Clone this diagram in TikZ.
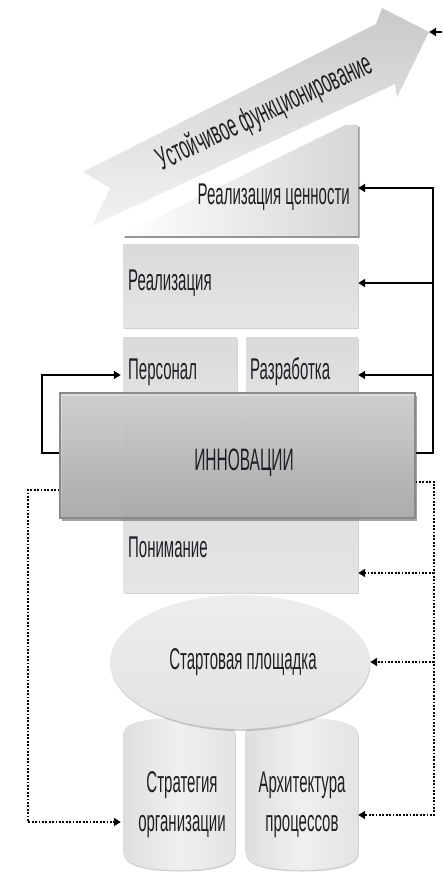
\documentclass[tikz,border=0pt]{standalone}
\usepackage{fontspec}
\setmainfont{Liberation Sans}
\usetikzlibrary{arrows.meta,shadows,shapes.geometric}
\definecolor{ink}{HTML}{202024}
\definecolor{panelA}{HTML}{DADADC}
\definecolor{panelB}{HTML}{E5E5E7}
\definecolor{innA}{HTML}{D8D8DA}
\definecolor{innB}{HTML}{AEAEB0}
\definecolor{innEdge}{HTML}{8A8A8C}
\definecolor{shade}{HTML}{7A7A7C}
% condensed lettering: the sans face squeezed to half its width
\newcommand{\nar}[1]{\scalebox{0.5}[1]{#1}}
\begin{document}
\begin{tikzpicture}[x=1pt,y=-1pt,
  lbl/.style={font=\fontsize{30}{34}\selectfont, text=ink, inner sep=0pt},
  panel/.style={draw=none, top color=panelA, bottom color=panelB, inner sep=0pt,
    drop shadow={shadow xshift=0.8pt, shadow yshift=-1.5pt, fill=shade, opacity=0.35}},
  anchorbox/.style={inner sep=0pt, draw=none},
  bus/.style={line width=1.8pt, draw=black, -{Triangle[length=7pt,width=8pt]}},
  dots/.style={line width=1.8pt, draw=black, dash pattern=on 1.8pt off 1.6pt,
    -{Triangle[length=7pt,width=8pt]}}
]
\useasboundingbox (0,0) rectangle (442,874);

% big ribbon arrow
\coordinate (arrowTip) at (429,32);
\path[left color=gray!42, right color=gray!10, shading angle=0]
  (83,172) -- (376,24) -- (382,8) -- (arrowTip) -- (397,97) -- (395,84)
  -- (92,226) -- (110,188) -- cycle;
\node[lbl, font=\fontsize{32}{36}\selectfont, rotate=25] (sustainT) at (265,113)
  {\nar{Устойчивое функционирование}};

% value wedge
\node[anchorbox, minimum width=235pt, minimum height=112pt] (value) at (240.5,181) {};
\path[left color=white, right color=gray!32,
  drop shadow={shadow xshift=1.5pt, shadow yshift=-2pt, fill=shade, opacity=0.8}]
  (123,234) -- (345,125) -- (358,125) -- (358,236) -- (123,236) -- cycle;
\node[lbl, anchor=east] (valueT) at (350,197) {\nar{Реализация ценности}};

% stacked panels
\node[panel, minimum width=235pt, minimum height=82pt] (impl) at (240.5,286) {};
\node[panel, minimum width=114pt, minimum height=88pt] (staff) at (180,381) {};
\node[panel, minimum width=112pt, minimum height=88pt] (dev) at (302,381) {};
\node[panel, minimum width=235pt, minimum height=172pt] (underst) at (240.5,506) {};

% translucent innovation bar
\node[draw=innEdge, line width=1.2pt, top color=innA, bottom color=innB,
  fill opacity=0.85, inner sep=0pt, minimum width=355pt, minimum height=125pt,
  drop shadow={shadow xshift=1.5pt, shadow yshift=-3pt, fill=shade, opacity=0.7}]
  (innov) at (237.5,455.5) {};

% cylinders
\node[anchorbox, minimum width=112pt, minimum height=150pt] (strat) at (179,795) {};
\node[anchorbox, minimum width=113pt, minimum height=150pt] (arch) at (301.5,795) {};
\path[left color=gray!26, right color=gray!22, middle color=gray!12,
  drop shadow={shadow xshift=0.8pt, shadow yshift=-1.5pt, fill=shade, opacity=0.35}]
  (123,734) .. controls (123,722) and (150,718) .. (179,718)
  .. controls (208,718) and (235,722) .. (235,734) -- (235,852)
  .. controls (235,866) and (208,870) .. (179,870)
  .. controls (150,870) and (123,866) .. (123,852) -- cycle;
\path[left color=gray!26, right color=gray!22, middle color=gray!12,
  drop shadow={shadow xshift=0.8pt, shadow yshift=-1.5pt, fill=shade, opacity=0.35}]
  (245,734) .. controls (245,722) and (272,718) .. (301.5,718)
  .. controls (331,718) and (358,722) .. (358,734) -- (358,852)
  .. controls (358,866) and (331,870) .. (301.5,870)
  .. controls (272,870) and (245,866) .. (245,852) -- cycle;

% launch pad
\node[ellipse, draw=none, top color=gray!14, bottom color=gray!22, inner sep=0pt,
  minimum width=260pt, minimum height=134pt,
  drop shadow={shadow xshift=0.5pt, shadow yshift=-2pt, fill=shade, opacity=0.35}]
  (launch) at (240,662) {};

% labels
\node[lbl, anchor=west] (implT) at (128,283) {\nar{Реализация}};
\node[lbl, anchor=west] (staffT) at (128,372) {\nar{Персонал}};
\node[lbl, anchor=west] (devT) at (250,372) {\nar{Разработка}};
\node[lbl, font=\fontsize{31}{35}\selectfont] (innovT) at (244,463) {\nar{ИННОВАЦИИ}};
\node[lbl, anchor=west] (understT) at (128,547) {\nar{Понимание}};
\node[lbl] (launchT) at (243,662) {\nar{Стартовая площадка}};
\node[lbl] (stratT1) at (182,785) {\nar{Стратегия}};
\node[lbl] (stratT2) at (182,827) {\nar{организации}};
\node[lbl] (archT1) at (302,785) {\nar{Архитектура}};
\node[lbl] (archT2) at (302,827) {\nar{процессов}};

% solid feedback lines
\coordinate (topIn) at (442,32);
\draw[bus] (topIn) -- (arrowTip);
\coordinate (rb1) at (433,188);
\coordinate (rb2) at (433,283);
\coordinate (rb3) at (433,375);
\coordinate (rb4) at (433,453);
\draw[bus] (innov.east |- rb4) -- (rb4) -- (rb1) -- (value.east |- rb1);
\draw[bus] (rb2) -- (rb2 -| impl.east);
\draw[bus] (rb3) -- (rb3 -| dev.east);
\coordinate (lb1) at (42,453);
\coordinate (lb2) at (42,375);
\draw[bus, shorten >=2pt] (innov.west |- lb1) -- (lb1) -- (lb2) -- (lb2 -| staff.west);

% dotted feedback lines
\coordinate (rd1) at (434,482);
\coordinate (rd2) at (434,573);
\coordinate (rd3) at (434,662);
\coordinate (rd4) at (434,815);
\draw[dots] (innov.east |- rd1) -- (rd1) -- (rd4) -- (rd4 -| arch.east);
\draw[dots] (rd2) -- (rd2 -| underst.east);
\draw[dots] (rd3) -- (launch.east);
\coordinate (ld1) at (28,490);
\coordinate (ld2) at (28,822);
\draw[dots, shorten >=2pt] (innov.west |- ld1) -- (ld1) -- (ld2) -- (ld2 -| strat.west);
\end{tikzpicture}
\end{document}
